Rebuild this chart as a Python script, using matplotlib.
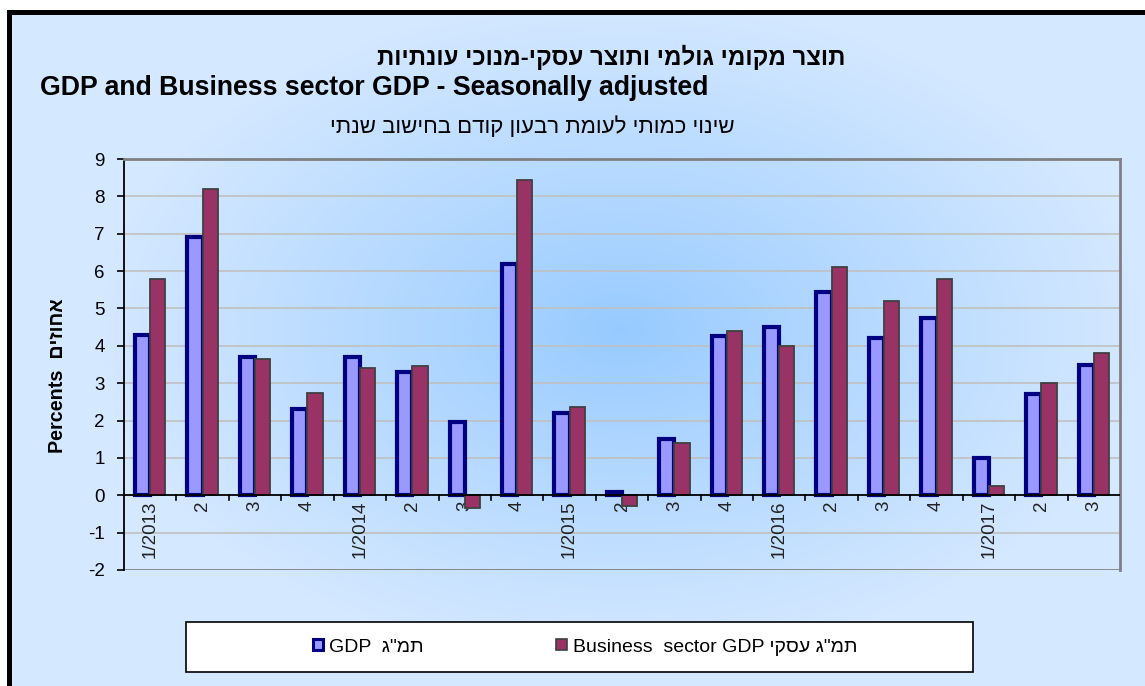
import numpy as np
import matplotlib.pyplot as plt
from matplotlib.patches import Rectangle

# quarterly data, real change vs previous quarter, annualised
quarters = ["1/2013", "2", "3", "4", "1/2014", "2", "3", "4", "1/2015",
            "2", "3", "4", "1/2016", "2", "3", "4", "1/2017", "2", "3"]
gdp = [4.3, 6.9, 3.7, 2.3, 3.7, 3.3, 1.95, 6.2, 2.2,
       0.1, 1.5, 4.25, 4.5, 5.45, 4.2, 4.75, 1.0, 2.7, 3.5]
business = [5.8, 8.2, 3.65, 2.75, 3.4, 3.45, -0.35, 8.45, 2.35,
            -0.3, 1.4, 4.4, 4.0, 6.1, 5.2, 5.8, 0.25, 3.0, 3.8]


def heb(s):
    # matplotlib has no bidi support: put hebrew in visual order
    return s[::-1]


FONT = ['Liberation Sans', 'DejaVu Sans']
NARROW = ['Liberation Sans Narrow', 'Liberation Sans', 'DejaVu Sans']
plt.rcParams['font.family'] = FONT
plt.rcParams['axes.unicode_minus'] = False

W, H = 1145, 686
fig = plt.figure(figsize=(W / 100, H / 100), dpi=100)

# chart-area background: radial light-blue gradient
yy, xx = np.mgrid[0:H, 0:W]
d = np.sqrt(((xx - 620) / 520.0) ** 2 + ((yy - 330) / 330.0) ** 2)
t = np.clip(d, 0, 1) ** 0.9
c0 = np.array([150, 202, 255]) / 255.0
c1 = np.array([212, 232, 255]) / 255.0
img = c0[None, None, :] * (1 - t[..., None]) + c1[None, None, :] * t[..., None]
img[:10, :, :] = 1.0
img[:, :7, :] = 1.0
bg = fig.add_axes([0, 0, 1, 1], zorder=-10)
bg.imshow(img, extent=(0, 1, 0, 1), aspect='auto', interpolation='bilinear')
bg.axis('off')

# black frame of the chart area (top and left)
fig.add_artist(Rectangle((7 / W, 1 - 15 / H), 1, 5 / H, transform=fig.transFigure,
                         facecolor='black', edgecolor='none'))
fig.add_artist(Rectangle((7 / W, 0), 5 / W, 1 - 10 / H, transform=fig.transFigure,
                         facecolor='black', edgecolor='none'))

ax = fig.add_axes([124 / W, 1 - 570 / H, (1120 - 124) / W, (570 - 159) / H])
ax.patch.set_alpha(0)

x = np.arange(len(quarters))
bw = 0.29
ax.bar(x - 0.145, gdp, bw, color='#9999FF', edgecolor='#000080',
       linewidth=3.0, zorder=3)
ax.bar(x + 0.145, business, bw, color='#993366', edgecolor='#404040',
       linewidth=1.3, zorder=4)

ax.set_xlim(-0.5, len(quarters) - 0.5)
ax.set_ylim(-2, 9)
ax.set_yticks(range(-2, 10))
for v in range(-1, 9):
    if v != 0:
        ax.axhline(v, color='#C0C0C0', linewidth=1.2, zorder=1)

for side in ['top', 'right']:
    ax.spines[side].set_color('#808080')
    ax.spines[side].set_linewidth(2)
ax.spines['left'].set_color('black')
ax.spines['left'].set_linewidth(1.3)
ax.spines['bottom'].set_visible(False)
ax.axhline(-2, color='#808080', linewidth=2, zorder=2)
ax.axhline(0, color='black', linewidth=1.3, zorder=5)

ax.tick_params(axis='y', direction='out', length=5, width=1.2, pad=9,
               labelsize=13.5, colors='black')

# category labels hang under the zero line
ax.set_xticks([])
for i, q in enumerate(quarters):
    ax.text(i, -0.13, q, rotation=90, ha='center', va='top', fontsize=13.5,
            color='#222222')
for b in np.arange(0.5, len(quarters) - 0.5, 1.0):
    ax.plot([b, b], [0, -0.13], color='black', linewidth=1.2, zorder=5)

# titles
fig.text(611 / W, 1 - 57 / H, heb("תוצר מקומי גולמי ותוצר עסקי-מנוכי עונתיות"),
         ha='center', va='center', fontsize=17.3, fontweight='bold')
fig.text(40 / W, 1 - 88 / H, "GDP and Business sector GDP - Seasonally adjusted",
         ha='left', va='center', fontsize=19.2, fontweight='bold')
fig.text(532 / W, 1 - 127 / H, heb("שינוי כמותי לעומת רבעון קודם בחישוב שנתי"),
         ha='center', va='center', fontsize=16)
fig.text(58 / W, 1 - 376 / H, "Percents  " + heb("אחוזים"), rotation=90,
         ha='center', va='center', fontsize=14.2, fontweight='bold')

# legend box
fig.add_artist(Rectangle((186 / W, 1 - 672 / H), (973 - 186) / W, 50 / H,
                         transform=fig.transFigure, facecolor='white',
                         edgecolor='black', linewidth=1.2))
h1 = Rectangle((0, 0), 1, 1, facecolor='#9999FF', edgecolor='#000080', linewidth=2.2)
h2 = Rectangle((0, 0), 1, 1, facecolor='#993366', edgecolor='#404040', linewidth=1.2)
fig.legend([h1, h2],
           ["GDP  " + heb('תמ"ג'), "Business  sector GDP " + heb('תמ"ג עסקי')],
           loc='center', bbox_to_anchor=(585 / W, 1 - 647 / H), ncol=2,
           frameon=False, handlelength=0.55, handleheight=0.55, handletextpad=0.3,
           columnspacing=6.8, prop={'family': NARROW, 'size': 14})

fig.savefig('out.png', dpi=100)
